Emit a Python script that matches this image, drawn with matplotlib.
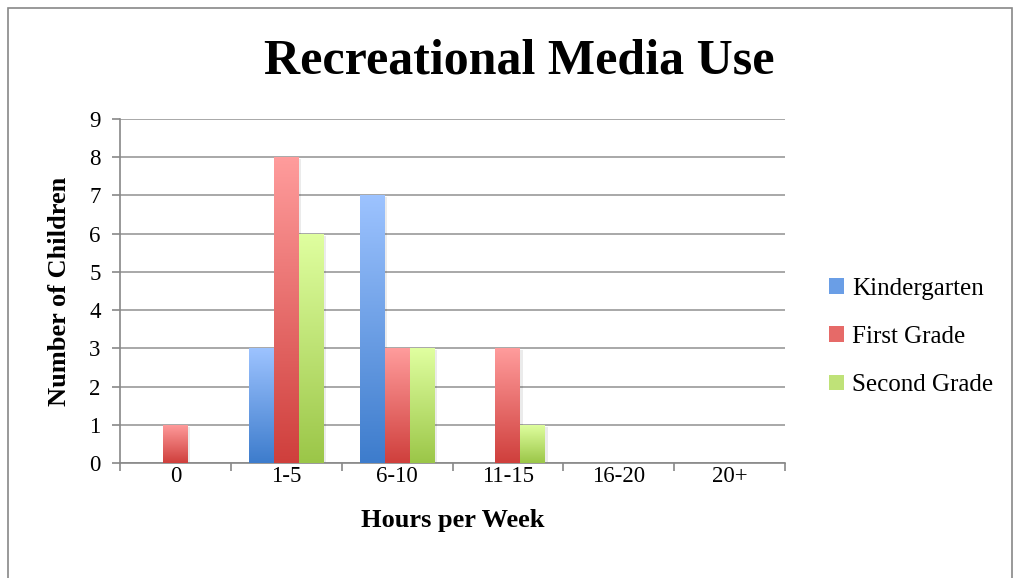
import numpy as np
import matplotlib.pyplot as plt
from matplotlib.colors import LinearSegmentedColormap
from matplotlib.patches import Rectangle, Patch

categorie = ['0', '1-5', '6-10', '11-15', '16-20', '20+']
kindergarten = [0, 3, 7, 0, 0, 0]
first_grade = [1, 8, 3, 3, 0, 0]
second_grade = [0, 6, 3, 1, 0, 0]

serie = [
    ('Kindergarten', kindergarten, '#9dc3ff', '#3d7ccc', '#6a9ee6'),
    ('First Grade', first_grade, '#ff9c9c', '#cf3f3c', '#e66a68'),
    ('Second Grade', second_grade, '#e0ffa0', '#9bc648', '#bfe278'),
]

plt.rcParams['font.family'] = ['Liberation Serif', 'DejaVu Serif']

fig = plt.figure(figsize=(10.16, 5.78), dpi=100)
ax = fig.add_axes([120 / 1016, 115 / 578, 665 / 1016, 344 / 578])

# bordo della figura
fig.patches.append(Rectangle((8 / 1016, -0.05), 1004 / 1016, 1.05 - 8 / 578,
                             transform=fig.transFigure, fill=False,
                             edgecolor='#888888', linewidth=1.2))

x = np.arange(len(categorie))
w = 0.225
grad = np.linspace(0, 1, 256).reshape(-1, 1)

for i, (nome, valori, c_top, c_bot, c_mid) in enumerate(serie):
    cmap = LinearSegmentedColormap.from_list(nome, [c_bot, c_top])
    barre = ax.bar(x + (i - 1) * w, valori, w, color='none', edgecolor='none', zorder=3)
    for b in barre:
        h = b.get_height()
        if h <= 0:
            continue
        x0 = b.get_x()
        # ombra leggera
        ax.add_patch(Rectangle((x0 + 0.02, -0.05), w, h, facecolor='#000000',
                               alpha=0.08, edgecolor='none', zorder=2))
        im = ax.imshow(grad, cmap=cmap, origin='lower', aspect='auto',
                       extent=(x0, x0 + w, 0, h), zorder=3)
        im.set_clip_path(b)

ax.set_xlim(-0.5, len(categorie) - 0.5)
ax.set_ylim(0, 9)
ax.set_yticks(range(10))
ax.set_xticks(x)
ax.set_xticklabels(categorie)
ax.set_xticks(np.arange(-0.5, len(categorie)), minor=True)
ax.tick_params(axis='x', which='major', length=0, pad=2, labelsize=16.5)
ax.tick_params(axis='x', which='minor', length=6, color='#888888', width=1.2)
ax.tick_params(axis='y', length=6, color='#888888', width=1.2, pad=8, labelsize=16.5)
ax.yaxis.grid(True, color='#999999', linewidth=1.2, zorder=0)
ax.set_axisbelow(True)
for s in ['top', 'right']:
    ax.spines[s].set_visible(False)
for s in ['left', 'bottom']:
    ax.spines[s].set_color('#888888')
    ax.spines[s].set_linewidth(1.2)

ax.set_xlabel('Hours per Week', fontsize=19, fontweight='bold', labelpad=16)
ax.set_ylabel('Number of Children', fontsize=19, fontweight='bold', labelpad=13)
fig.text(519 / 1016, 1 - 62 / 578, 'Recreational Media Use', fontsize=36,
         fontweight='bold', ha='center', va='center')

maniglie = [Patch(facecolor=s[4], edgecolor='none', label=s[0]) for s in serie]
fig.legend(handles=maniglie, loc='center left', bbox_to_anchor=(806 / 1016, 1 - 337 / 578),
           frameon=False, fontsize=18, handlelength=0.6, handleheight=0.6,
           handletextpad=0.35, labelspacing=1.05)

plt.savefig('out.png', dpi=100)
